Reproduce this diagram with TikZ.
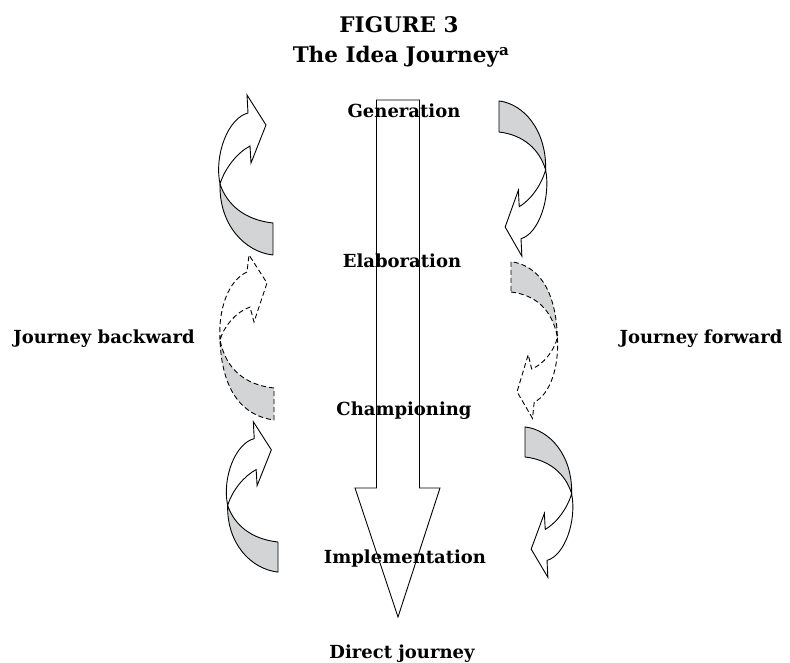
\documentclass[tikz,border=0pt]{standalone}
\usepackage{fontspec}
\setmainfont{DejaVu Serif}
\definecolor{bandgray}{RGB}{211,212,214}
\begin{document}
\begin{tikzpicture}[x=1pt,y=-1pt,line width=0.9pt,
  back/.style={fill=bandgray,draw=black,line join=round},
  front/.style={fill=white,draw=black},
  hidden/.style={dash pattern=on 5pt off 3pt},
  lab/.style={font=\fontsize{18}{21}\selectfont\bfseries,anchor=base},
  head/.style={font=\fontsize{21.5}{25}\selectfont\bfseries,anchor=base},
  pics/turn/.style={code={
    \draw[back] (0,0) .. controls (-28,-3) and (-46,-18) .. (-53,-39) .. controls (-54,2) and (-28,29) .. (0,32) -- cycle;
    \draw[front] (-53,-39) .. controls (-59,-68) and (-45,-105) .. (-25,-110) -- (-26,-128) -- (-7,-98) -- (-22,-60) -- (-23,-77) .. controls (-36,-70) and (-48,-55) .. (-53,-39) -- cycle;}},
  pics/turndash/.style={code={
    \draw[back,hidden] (0,0) .. controls (-28,-3) and (-48,-18) .. (-54,-48) .. controls (-52,5) and (-30,28) .. (0,32) -- cycle;
    \draw[front,hidden] (-54,-48) .. controls (-56,-80) and (-45,-108) .. (-27,-116) -- (-25,-133) -- (-7,-105) -- (-20,-66) -- (-24,-81) .. controls (-38,-76) and (-50,-62) .. (-54,-48) -- cycle;}}]
\useasboundingbox (0,0) rectangle (790,663);
%title
\node[head] (fig) at (399,33) {FIGURE 3};
\node[head] (title) at (401,63) {The Idea Journey\textsuperscript{a}};
%direct journey
\draw (376.5,100) -- (419.5,100) -- (419.5,488) -- (440,488) -- (398,617) -- (355,488) -- (376.5,488) -- cycle;
%backward
\pic at (274,388) {turndash};
\pic at (273,223) {turn};
\pic[xscale=0.95,yscale=0.94] at (278,542) {turn};
%forward
\pic[rotate=180,xscale=0.86,yscale=0.95] at (511,292) {turndash};
\pic[rotate=180,xscale=0.88,yscale=0.97] at (499,132) {turn};
\pic[rotate=180,xscale=0.88,yscale=0.94] at (525,457) {turn};
%stages
\node[lab] (gen) at (404,118) {Generation};
\node[lab] (elab) at (402,267) {Elaboration};
\node[lab] (champ) at (404,415) {Championing};
\node[lab] (impl) at (405,563) {Implementation};
\node[lab] (direct) at (402,658) {Direct journey};
\node[lab] (back) at (104,343) {Journey backward};
\node[lab] (fwd) at (701,343) {Journey forward};
\end{tikzpicture}
\end{document}
